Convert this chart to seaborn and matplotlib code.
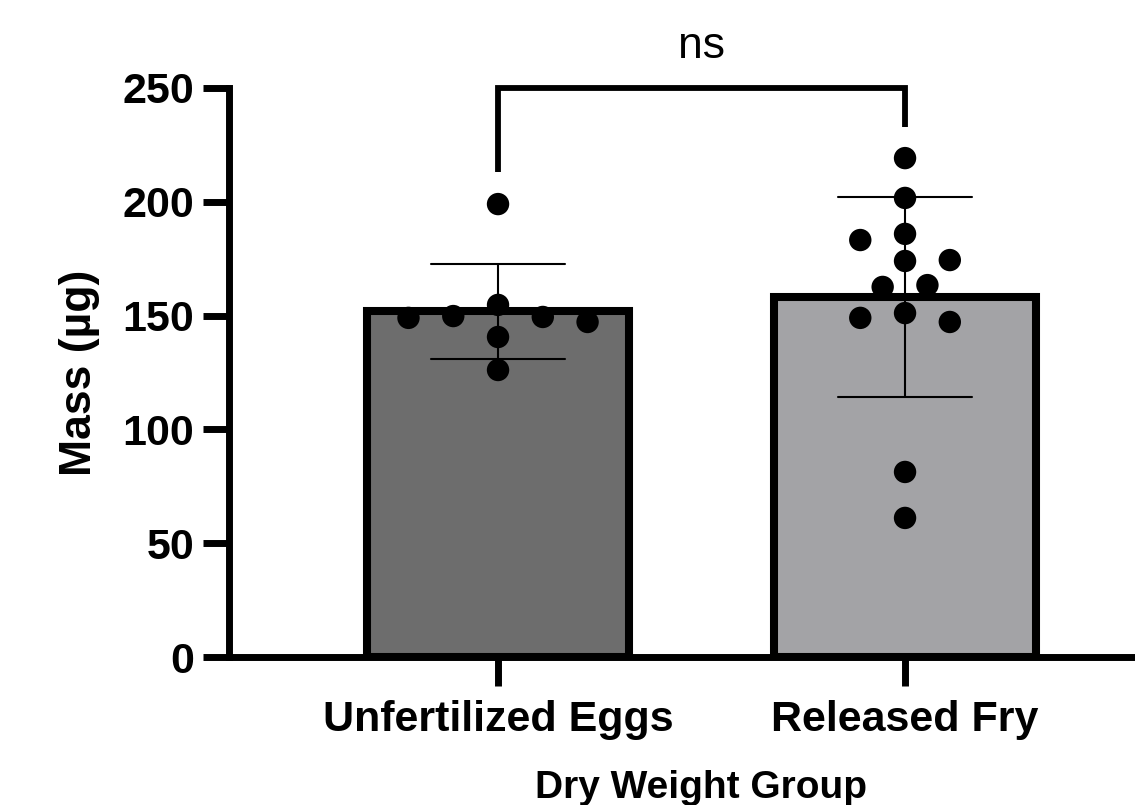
import numpy as np
import pandas as pd
import matplotlib
matplotlib.use("Agg")
import matplotlib.pyplot as plt
import seaborn as sns

# Values
groups = ["Unfertilized Eggs", "Released Fry"]
eggs_mass = [199.0, 149.0, 149.8, 154.7, 149.4, 147.2, 140.6, 126.1]
fry_mass = [219.2, 201.7, 183.2, 185.9, 174.0, 174.4, 162.6, 163.4,
            149.0, 151.1, 147.2, 81.3, 61.1]
# horizontal scatter of the points inside each group (as drawn)
eggs_dx = [0, -0.22, -0.11, 0, 0.11, 0.22, 0, 0]
fry_dx = [0, 0, -0.11, 0, 0, 0.11, -0.055, 0.055, -0.11, 0, 0.11, 0, 0]
bar_colors = ["#6d6d6d", "#a3a2a7"]
y_ticks = [0, 50, 100, 150, 200, 250]
sig_label = "ns"

df = pd.DataFrame({
    "group": [groups[0]] * len(eggs_mass) + [groups[1]] * len(fry_mass),
    "mass": eggs_mass + fry_mass,
    "xpos": [0 + d for d in eggs_dx] + [1 + d for d in fry_dx],
})

sns.set_style("ticks")
plt.rcParams["font.family"] = ["Liberation Sans", "DejaVu Sans"]
plt.rcParams["font.weight"] = "bold"
for key in ["axes.edgecolor", "xtick.color", "ytick.color", "text.color",
            "axes.labelcolor", "xtick.labelcolor", "ytick.labelcolor"]:
    plt.rcParams[key] = "black"

fig = plt.figure(figsize=(11.35, 8.05), dpi=100)
ax = fig.add_axes([229 / 1135, 1 - 657 / 805, 906 / 1135, 569 / 805])

# Bars with SD error bars
sns.barplot(data=df, x="group", y="mass", order=groups, hue="group",
            palette=bar_colors, legend=False, errorbar="sd", capsize=0.33,
            width=0.645, edgecolor="black", linewidth=5.8,
            err_kws={"color": "black", "linewidth": 1.5}, ax=ax)

# Individual points
sns.scatterplot(data=df, x="xpos", y="mass", color="black", s=260,
                edgecolor="none", zorder=5, ax=ax, legend=False)

ax.set_xlim(-0.661, 1.565)
ax.set_ylim(0, 250)
ax.set_xticks([0, 1], labels=groups)
ax.set_yticks(y_ticks)

for side in ["top", "right"]:
    ax.spines[side].set_visible(False)
for side in ["left", "bottom"]:
    ax.spines[side].set_linewidth(5)
    ax.spines[side].set_capstyle("projecting")

ax.tick_params(axis="both", width=5, length=19, labelsize=31)
ax.tick_params(axis="y", pad=6)
ax.tick_params(axis="x", length=21, pad=10)

ax.set_ylabel("Mass (µg)", fontsize=32, fontweight="bold")
ax.yaxis.set_label_coords(-0.142, 0.5)
ax.set_xlabel("Dry Weight Group", fontsize=28, fontweight="bold")
ax.xaxis.set_label_coords(0.5215, -0.198)

# Significance bracket
ax.plot([0, 0, 1, 1], [213, 250, 250, 233], color="black", lw=4.2,
        clip_on=False, solid_joinstyle="miter", solid_capstyle="butt", zorder=6)
ax.text(0.5, 263, sig_label, ha="center", va="baseline", fontsize=32,
        fontweight="normal", clip_on=False)

fig.savefig("out.png", dpi=100)
